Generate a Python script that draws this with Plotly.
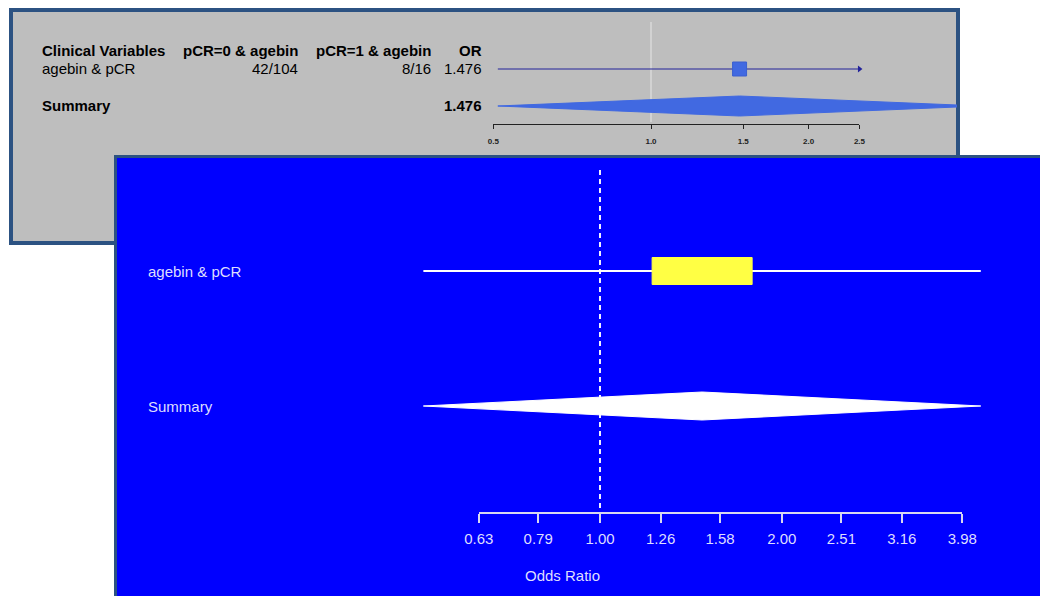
import math
import plotly.graph_objects as go

# ---------------- data ----------------
table_header = ["Clinical Variables", "pCR=0 & agebin", "pCR=1 & agebin", "OR"]
variables = ["agebin & pCR"]
pcr0_counts = ["42/104"]
pcr1_counts = ["8/16"]
odds_ratio = [1.476]
ci_lower = [0.51]
ci_upper = [4.27]
summary_label = "Summary"
summary_or = 1.476
summary_lower = 0.51
summary_upper = 4.27
gray_tick_labels = ["0.5", "1.0", "1.5", "2.0", "2.5"]
blue_tick_labels = ["0.63", "0.79", "1.00", "1.26", "1.58", "2.00", "2.51", "3.16", "3.98"]
x_title = "Odds Ratio"

# ---------------- layout helpers ----------------
W, H = 1040, 596
FONT = "Liberation Sans, Arial, Helvetica, sans-serif"


def fx(px):
    return px / W


def fy(py):
    return 1 - py / H


gray_ticks = [float(t) for t in gray_tick_labels]
blue_ticks = [float(t) for t in blue_tick_labels]

# gray panel scale: pixels per log10 unit, pixel of OR = 1
G_K, G_X1 = 523.8, 651.0
g_px = lambda v: G_X1 + math.log10(v) * G_K
G_CLIP = (min(gray_ticks), max(gray_ticks))
# gray rows: header 0, variable 1, summary 3 ; 18.5 px per row, row 0 at 50 px
G_Y0, G_DY = 50.5, 18.5
g_row = lambda py: (py - G_Y0) / G_DY

# blue panel scale
B_K, B_X1 = 604.0, 600.0
b_px = lambda v: B_X1 + math.log10(v) * B_K
B_Y1, B_DY = 271.0, 135.0
b_row = lambda py: 1 + (py - B_Y1) / B_DY

fig = go.Figure()

# ---------------- gray panel (upper) ----------------
g_dom_px = (480, 957)
g_ydom_px = (21, 124)

# reference line at OR = 1
fig.add_trace(go.Scatter(x=[1, 1], y=[g_row(22), g_row(122)], mode="lines",
                         line=dict(color="#e6e6e6", width=1),
                         xaxis="x", yaxis="y", hoverinfo="skip", showlegend=False))

for i, name in enumerate(variables):
    row = 1 + i
    lo = max(ci_lower[i], G_CLIP[0])
    hi = min(ci_upper[i], G_CLIP[1])
    fig.add_trace(go.Scatter(x=[lo, hi], y=[row, row], mode="lines",
                             line=dict(color="#22229a", width=1.2),
                             xaxis="x", yaxis="y", hoverinfo="skip", showlegend=False))
    if ci_upper[i] > G_CLIP[1]:
        fig.add_trace(go.Scatter(x=[hi], y=[row], mode="markers",
                                 marker=dict(symbol="triangle-right", size=6, color="#22229a"),
                                 xaxis="x", yaxis="y", hoverinfo="skip", showlegend=False))
    fig.add_trace(go.Scatter(x=[odds_ratio[i]], y=[row], mode="markers",
                             marker=dict(symbol="square", size=14, color="#4169e1",
                                         line=dict(color="#3a5fd0", width=1)),
                             xaxis="x", yaxis="y", hoverinfo="skip", showlegend=False))

# summary diamond (gray panel)
g_sum_row = 3
g_half = 10 / G_DY
fig.add_trace(go.Scatter(
    x=[summary_lower, summary_or, summary_upper, summary_or, summary_lower],
    y=[g_sum_row, g_sum_row - g_half, g_sum_row, g_sum_row + g_half, g_sum_row],
    mode="lines", fill="toself", fillcolor="#4169e1", line=dict(color="#4169e1", width=1),
    xaxis="x", yaxis="y", hoverinfo="skip", showlegend=False))

# tick-axis carrier trace (gray)
fig.add_trace(go.Scatter(x=gray_ticks, y=[g_row(124)] * len(gray_ticks), mode="markers",
                         marker=dict(opacity=0), xaxis="x3", yaxis="y",
                         hoverinfo="skip", showlegend=False))

# ---------------- blue panel (front) ----------------
b_dom_px = (405, 1000)
b_ydom_px = (163, 512)

# dashed reference line at OR = 1
fig.add_trace(go.Scatter(x=[1, 1], y=[b_row(170), b_row(511)], mode="lines",
                         line=dict(color="#f0f0ff", width=2, dash="5px,4px"),
                         xaxis="x2", yaxis="y2", hoverinfo="skip", showlegend=False))

box_half_log = 0.0828
box_half_row = 13.5 / B_DY
for i, name in enumerate(variables):
    row = 1 + i
    fig.add_trace(go.Scatter(x=[ci_lower[i], ci_upper[i]], y=[row, row], mode="lines",
                             line=dict(color="white", width=2),
                             xaxis="x2", yaxis="y2", hoverinfo="skip", showlegend=False))
    bl = odds_ratio[i] / 10 ** box_half_log
    br = odds_ratio[i] * 10 ** box_half_log
    fig.add_trace(go.Scatter(
        x=[bl, br, br, bl, bl],
        y=[row - box_half_row, row - box_half_row, row + box_half_row, row + box_half_row, row - box_half_row],
        mode="lines", fill="toself", fillcolor="#ffff44", line=dict(color="#ffff44", width=1),
        xaxis="x2", yaxis="y2", hoverinfo="skip", showlegend=False))

b_sum_row = 2
b_half = 14 / B_DY
fig.add_trace(go.Scatter(
    x=[summary_lower, summary_or, summary_upper, summary_or, summary_lower],
    y=[b_sum_row, b_sum_row - b_half, b_sum_row, b_sum_row + b_half, b_sum_row],
    mode="lines", fill="toself", fillcolor="white", line=dict(color="white", width=1),
    xaxis="x2", yaxis="y2", hoverinfo="skip", showlegend=False))

# tick-axis carrier trace (blue)
fig.add_trace(go.Scatter(x=blue_ticks, y=[b_row(512)] * len(blue_ticks), mode="markers",
                         marker=dict(opacity=0), xaxis="x4", yaxis="y2",
                         hoverinfo="skip", showlegend=False))

# ---------------- panel frames ----------------
frame_col = "#2c5282"
shapes = [
    dict(type="rect", xref="paper", yref="paper", layer="below",
         x0=fx(11), x1=fx(958), y0=fy(10), y1=fy(243),
         fillcolor="#bebebe", line=dict(color=frame_col, width=4)),
    dict(type="rect", xref="paper", yref="paper", layer="below",
         x0=fx(115.5), x1=fx(1050), y0=fy(156.5), y1=fy(610),
         fillcolor="#0000ff", line=dict(color=frame_col, width=3)),
]

# ---------------- text ----------------
annotations = []
col_x = [(40, "left"), (300, "right"), (433, "right"), (484, "right")]
for (px, anchor), txt in zip(col_x, table_header):
    annotations.append(dict(text="<b>%s</b>" % txt, x=fx(px), xref="paper", xanchor=anchor,
                            y=0, yref="y", yanchor="middle", showarrow=False,
                            font=dict(family=FONT, size=15, color="black")))
for i, name in enumerate(variables):
    row = 1 + i
    cells = [name, pcr0_counts[i], pcr1_counts[i], "%.3f" % odds_ratio[i]]
    for (px, anchor), txt in zip(col_x, cells):
        annotations.append(dict(text=txt, x=fx(px), xref="paper", xanchor=anchor,
                                y=row, yref="y", yanchor="middle", showarrow=False,
                                font=dict(family=FONT, size=15, color="black")))
annotations.append(dict(text="<b>%s</b>" % summary_label, x=fx(40), xref="paper", xanchor="left",
                        y=g_sum_row, yref="y", yanchor="middle", showarrow=False,
                        font=dict(family=FONT, size=15, color="black")))
annotations.append(dict(text="<b>%.3f</b>" % summary_or, x=fx(484), xref="paper", xanchor="right",
                        y=g_sum_row, yref="y", yanchor="middle", showarrow=False,
                        font=dict(family=FONT, size=15, color="black")))

blue_text = "#dedeff"
for i, name in enumerate(variables):
    annotations.append(dict(text=name, x=fx(146), xref="paper", xanchor="left",
                            y=1 + i, yref="y2", yanchor="middle", showarrow=False,
                            font=dict(family=FONT, size=15, color=blue_text)))
annotations.append(dict(text=summary_label, x=fx(146), xref="paper", xanchor="left",
                        y=b_sum_row, yref="y2", yanchor="middle", showarrow=False,
                        font=dict(family=FONT, size=15, color=blue_text)))
annotations.append(dict(text=x_title, x=fx(562), xref="paper", xanchor="center",
                        y=fy(575), yref="paper", yanchor="middle", showarrow=False,
                        font=dict(family=FONT, size=15, color=blue_text)))

hidden = dict(visible=False, showgrid=False, zeroline=False)

fig.update_layout(
    width=W, height=H,
    margin=dict(l=0, r=0, t=0, b=0, pad=0, autoexpand=False),
    paper_bgcolor="white", plot_bgcolor="rgba(0,0,0,0)",
    showlegend=False,
    shapes=shapes, annotations=annotations,
    xaxis=dict(type="log", domain=[fx(g_dom_px[0]), fx(g_dom_px[1])],
               range=[(g_dom_px[0] - G_X1) / G_K, (g_dom_px[1] - G_X1) / G_K],
               anchor="y", **hidden),
    yaxis=dict(domain=[fy(g_ydom_px[1]), fy(g_ydom_px[0])],
               range=[g_row(g_ydom_px[1]), g_row(g_ydom_px[0])], anchor="x", **hidden),
    xaxis3=dict(type="log", domain=[fx(g_px(gray_ticks[0])), fx(g_px(gray_ticks[-1]))],
                range=[math.log10(gray_ticks[0]), math.log10(gray_ticks[-1])],
                anchor="y", showgrid=False, zeroline=False,
                showline=True, linecolor="#222222", linewidth=1,
                ticks="outside", ticklen=4, tickwidth=1, tickcolor="#222222",
                tickmode="array", tickvals=gray_ticks,
                ticktext=["<b>%s</b>" % t for t in gray_tick_labels],
                ticklabelstandoff=5,
                tickfont=dict(family=FONT, size=8, color="#222222")),
    xaxis2=dict(type="log", domain=[fx(b_dom_px[0]), fx(b_dom_px[1])],
                range=[(b_dom_px[0] - B_X1) / B_K, (b_dom_px[1] - B_X1) / B_K],
                anchor="y2", **hidden),
    yaxis2=dict(domain=[fy(b_ydom_px[1]), fy(b_ydom_px[0])],
                range=[b_row(b_ydom_px[1]), b_row(b_ydom_px[0])], anchor="x2", **hidden),
    xaxis4=dict(type="log", domain=[fx(b_px(blue_ticks[0])), fx(b_px(blue_ticks[-1]))],
                range=[math.log10(blue_ticks[0]), math.log10(blue_ticks[-1])],
                anchor="y2", showgrid=False, zeroline=False,
                showline=True, linecolor="#d8d8f0", linewidth=2,
                ticks="outside", ticklen=9, tickwidth=2, tickcolor="#d8d8f0",
                tickmode="array", tickvals=blue_ticks, ticktext=blue_tick_labels,
                ticklabelstandoff=3,
                tickfont=dict(family=FONT, size=15, color=blue_text)),
)

fig.write_html("out.html")
